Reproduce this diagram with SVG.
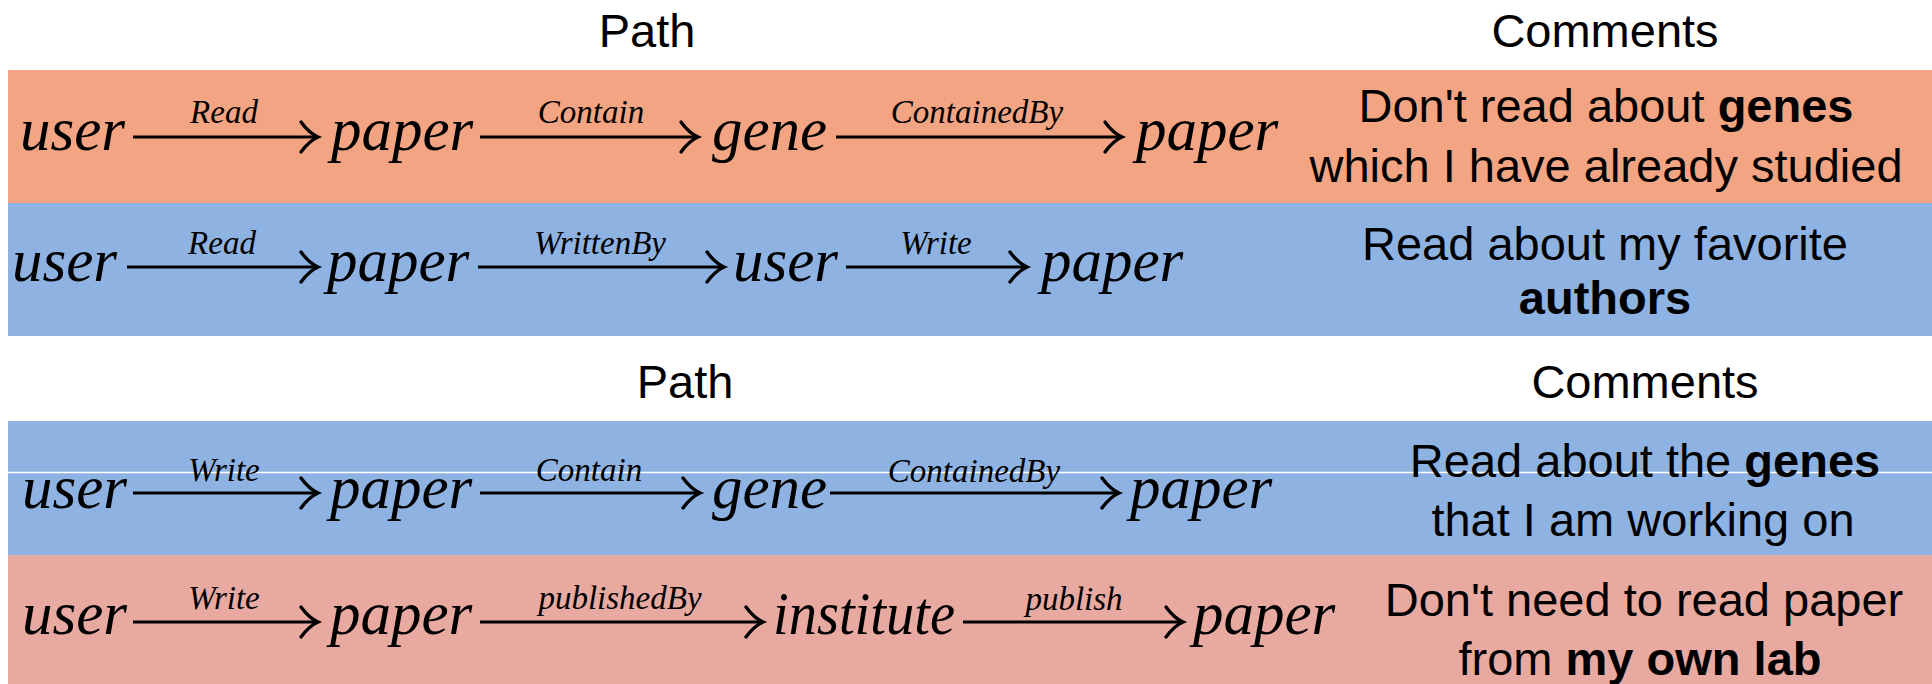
<svg xmlns="http://www.w3.org/2000/svg" width="1932" height="684" viewBox="0 0 1932 684">
<style>
.hdr{font-family:"Liberation Sans",Arial,sans-serif;font-size:47px;fill:#000;text-anchor:middle}
.cmt{font-family:"Liberation Sans",Arial,sans-serif;font-size:47px;fill:#000;text-anchor:middle}
.b{font-weight:bold}
.node{font-family:"Liberation Serif","Times New Roman",serif;font-style:italic;font-size:61px;fill:#000}
.lbl{font-family:"Liberation Serif","Times New Roman",serif;font-style:italic;font-size:33px;fill:#000;text-anchor:middle}
.arr{stroke:#000;stroke-width:3.2;fill:none;marker-end:url(#ah)}
</style>
<defs>
<marker id="ah" markerUnits="userSpaceOnUse" markerWidth="30" markerHeight="34" refX="20" refY="16" orient="auto" overflow="visible">
<path d="M3,1 Q11,12 20,16 Q11,20 3,31" fill="none" stroke="#000" stroke-width="3.4" stroke-linecap="round"/>
</marker>
</defs>
<rect width="1932" height="684" fill="#fff"/>
<g id="bands">
<rect x="8" y="70" width="1924" height="133" fill="#F3A583"/>
<rect x="8" y="203" width="1924" height="133" fill="#8EB3E2"/>
<rect x="8" y="421" width="1924" height="134" fill="#8EB3E2"/>
<rect x="8" y="555" width="1924" height="129" fill="#E7A9A0"/>
<line x1="8" y1="472.5" x2="1932" y2="472.5" stroke="#fff" stroke-width="1.5"/>
</g>
<g id="headers">
<text class="hdr" x="647" y="47">Path</text>
<text class="hdr" x="1605" y="47">Comments</text>
<text class="hdr" x="685" y="398">Path</text>
<text class="hdr" x="1645" y="398">Comments</text>
</g>
<g id="connectors">
<line class="arr" x1="133" y1="137" x2="318" y2="137"/>
<line class="arr" x1="480" y1="137" x2="698" y2="137"/>
<line class="arr" x1="836" y1="137" x2="1122" y2="137"/>
<line class="arr" x1="127" y1="267" x2="318" y2="267"/>
<line class="arr" x1="478" y1="267" x2="724" y2="267"/>
<line class="arr" x1="846" y1="267" x2="1027" y2="267"/>
<line class="arr" x1="133" y1="493" x2="318" y2="493"/>
<line class="arr" x1="480" y1="493" x2="700" y2="493"/>
<line class="arr" x1="830" y1="493" x2="1119" y2="493"/>
<line class="arr" x1="133" y1="622" x2="318" y2="622"/>
<line class="arr" x1="480" y1="622" x2="763" y2="622"/>
<line class="arr" x1="963" y1="622" x2="1183" y2="622"/>
</g>
<g id="edge-labels">
<text class="lbl" x="224" y="123">Read</text>
<text class="lbl" x="591" y="123">Contain</text>
<text class="lbl" x="977" y="123">ContainedBy</text>
<text class="lbl" x="222" y="254">Read</text>
<text class="lbl" x="600" y="254">WrittenBy</text>
<text class="lbl" x="936" y="254">Write</text>
<text class="lbl" x="224" y="481">Write</text>
<text class="lbl" x="589" y="481">Contain</text>
<text class="lbl" x="974" y="482">ContainedBy</text>
<text class="lbl" x="224" y="609">Write</text>
<text class="lbl" x="620" y="609">publishedBy</text>
<text class="lbl" x="1074" y="610">publish</text>
</g>
<g id="row1">
<text class="node" x="20" y="150">user</text>
<text class="node" x="331" y="150">paper</text>
<text class="node" x="712" y="150">gene</text>
<text class="node" x="1136" y="150">paper</text>
<text class="cmt" x="1606" y="122">Don't read about <tspan class="b">genes</tspan></text>
<text class="cmt" x="1606" y="182">which I have already studied</text>
</g>
<g id="row2">
<text class="node" x="12" y="281">user</text>
<text class="node" x="327" y="281">paper</text>
<text class="node" x="733" y="281">user</text>
<text class="node" x="1041" y="281">paper</text>
<text class="cmt" x="1605" y="260">Read about my favorite</text>
<text class="cmt b" x="1605" y="314">authors</text>
</g>
<g id="row3">
<text class="node" x="22" y="508">user</text>
<text class="node" x="330" y="508">paper</text>
<text class="node" x="712" y="508">gene</text>
<text class="node" x="1130" y="508">paper</text>
<text class="cmt" x="1645" y="477">Read about the <tspan class="b">genes</tspan></text>
<text class="cmt" x="1643" y="536">that I am working on</text>
</g>
<g id="row4">
<text class="node" x="22" y="634">user</text>
<text class="node" x="330" y="634">paper</text>
<text class="node" x="773" y="634" textLength="182" lengthAdjust="spacingAndGlyphs">institute</text>
<text class="node" x="1193" y="634">paper</text>
<text class="cmt" x="1644" y="616">Don't need to read paper</text>
<text class="cmt" x="1640" y="675">from <tspan class="b">my own lab</tspan></text>
</g>
</svg>
